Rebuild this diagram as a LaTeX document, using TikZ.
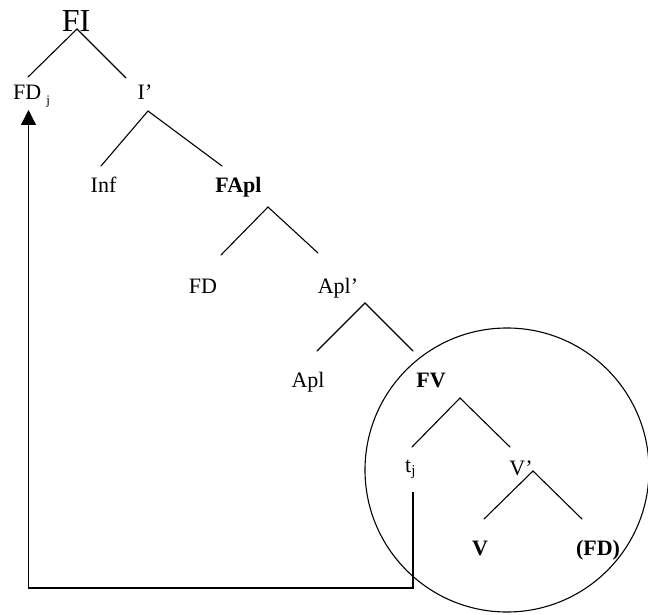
\documentclass[tikz,border=0pt]{standalone}
\usepackage{fontspec}
\setmainfont{Liberation Serif}
\usetikzlibrary{arrows.meta}
\begin{document}
\begin{tikzpicture}[x=1pt,y=-1pt,
  lbl/.style={font=\fontsize{22}{26}\selectfont, inner sep=0pt, anchor=base},
  blbl/.style={lbl, font=\fontsize{22}{26}\selectfont\bfseries},
  branch/.style={line width=1.1pt, line cap=round},
  movearrow/.style={line width=1.3pt, -{Triangle[width=15pt,length=15pt]}}]
\useasboundingbox (0,0) rectangle (648,615);
% labels
\node[lbl, font=\fontsize{32}{36}\selectfont] (FI) at (76,32) {FI};
\node[lbl, anchor=base west] (FDj) at (13,100) {FD\hspace{5pt}\raisebox{-5pt}{\fontsize{13}{13}\selectfont j}};
\node[lbl] (Ibar) at (145,100) {I’};
\node[lbl] (Inf) at (103.5,193) {Inf};
\node[lbl, font=\fontsize{22}{26}\selectfont\bfseries] (FApl) at (238.5,193) {FApl};
\node[lbl] (FD) at (203,293) {FD};
\node[lbl] (Aplbar) at (338,293) {Apl’};
\node[lbl] (Apl) at (308,387) {Apl};
\node[blbl] (FV) at (431,387) {FV};
\node[lbl, anchor=base west] (tj) at (405,472) {t\raisebox{-3pt}{\fontsize{15}{15}\selectfont j}};
\node[lbl] (Vbar) at (521,475) {V’};
\node[blbl] (V) at (480,555) {V};
\node[blbl] (FDobj) at (598,555) {(FD)};
% branch points
\coordinate (FIa) at (77,29);   \coordinate (FIl) at (28,77);   \coordinate (FIr) at (126,78);
\coordinate (Ia) at (148,111);  \coordinate (Il) at (101,166);  \coordinate (Ir) at (222,166);
\coordinate (FAa) at (268,207); \coordinate (FAl) at (221,255); \coordinate (FAr) at (318,253);
\coordinate (Aa) at (365,303);  \coordinate (Al) at (317,351);  \coordinate (Ar) at (413,351);
\coordinate (FVa) at (460,398); \coordinate (FVl) at (412,447); \coordinate (FVr) at (510,447);
\coordinate (Va) at (533,471);  \coordinate (Vl) at (484,519);  \coordinate (Vr) at (582,519);
\draw[branch] (FIl) -- (FIa) -- (FIr);
\draw[branch] (Il) -- (Ia) -- (Ir);
\draw[branch] (FAl) -- (FAa) -- (FAr);
\draw[branch] (Al) -- (Aa) -- (Ar);
\draw[branch] (FVl) -- (FVa) -- (FVr);
\draw[branch] (Vl) -- (Va) -- (Vr);
% circle
\coordinate (cc) at (507,470);
\draw[line width=1.1pt] (cc) circle (142pt);
% movement arrow
\coordinate (tstart) at (413,492);
\coordinate (corner1) at (413,588);
\coordinate (corner2) at (28.5,588);
\coordinate (tip) at (28.5,110);
\draw[movearrow] (tstart) -- (corner1) -- (corner2) -- (tip);
\end{tikzpicture}
\end{document}
